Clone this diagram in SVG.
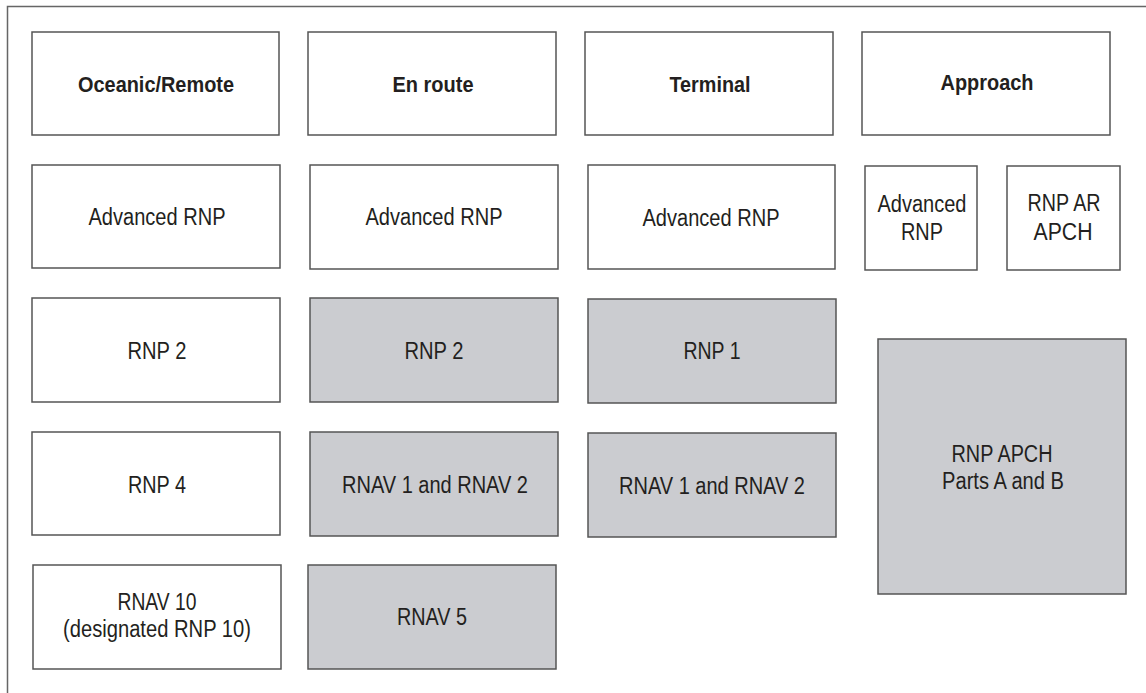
<svg xmlns="http://www.w3.org/2000/svg" width="1146" height="693" viewBox="0 0 1146 693">
<style>
.b{fill:#ffffff;stroke:#555555;stroke-width:1.5}
.g{fill:#cbccd0;stroke:#555555;stroke-width:1.5}
text{font-family:"Liberation Sans",Arial,sans-serif;font-size:23px;fill:#231f20;text-anchor:middle}
.h{font-weight:bold;font-size:22px}
</style>
<rect width="1146" height="693" fill="#ffffff"/>
<path d="M7.5,693 V6.5 H1146" fill="none" stroke="#666666" stroke-width="1.5"/>
<g id="hdr-oceanic"><rect class="b" x="32" y="32" width="247" height="103"/><text class="h" x="156" y="92" textLength="156" lengthAdjust="spacingAndGlyphs">Oceanic/Remote</text></g>
<g id="hdr-enroute"><rect class="b" x="308" y="32" width="248" height="103"/><text class="h" x="433" y="92" textLength="81" lengthAdjust="spacingAndGlyphs">En route</text></g>
<g id="hdr-terminal"><rect class="b" x="585" y="32" width="248" height="103"/><text class="h" x="710" y="92" textLength="81" lengthAdjust="spacingAndGlyphs">Terminal</text></g>
<g id="hdr-approach"><rect class="b" x="862" y="32" width="248" height="103"/><text class="h" x="987" y="90" textLength="93" lengthAdjust="spacingAndGlyphs">Approach</text></g>
<g id="oc-arnp"><rect class="b" x="32" y="165" width="248" height="103"/><text x="157" y="225" textLength="137" lengthAdjust="spacingAndGlyphs">Advanced RNP</text></g>
<g id="er-arnp"><rect class="b" x="310" y="165" width="248" height="104"/><text x="434" y="225" textLength="137" lengthAdjust="spacingAndGlyphs">Advanced RNP</text></g>
<g id="te-arnp"><rect class="b" x="588" y="165" width="247" height="104"/><text x="711" y="226" textLength="137" lengthAdjust="spacingAndGlyphs">Advanced RNP</text></g>
<g id="ap-arnp"><rect class="b" x="865" y="166" width="112" height="104"/><text x="922" y="212" textLength="89" lengthAdjust="spacingAndGlyphs">Advanced</text><text x="922" y="240" textLength="42" lengthAdjust="spacingAndGlyphs">RNP</text></g>
<g id="ap-rnpar"><rect class="b" x="1007" y="166" width="113" height="104"/><text x="1064" y="211" textLength="73" lengthAdjust="spacingAndGlyphs">RNP AR</text><text x="1063" y="240" textLength="59" lengthAdjust="spacingAndGlyphs">APCH</text></g>
<g id="oc-rnp2"><rect class="b" x="32" y="298" width="248" height="104"/><text x="157" y="359" textLength="59" lengthAdjust="spacingAndGlyphs">RNP 2</text></g>
<g id="er-rnp2"><rect class="g" x="310" y="298" width="248" height="104"/><text x="434" y="359" textLength="59" lengthAdjust="spacingAndGlyphs">RNP 2</text></g>
<g id="te-rnp1"><rect class="g" x="588" y="299" width="248" height="104"/><text x="712" y="359" textLength="57" lengthAdjust="spacingAndGlyphs">RNP 1</text></g>
<g id="ap-rnpapch"><rect class="g" x="878" y="339" width="248" height="255"/><text x="1002" y="462" textLength="101" lengthAdjust="spacingAndGlyphs">RNP APCH</text><text x="1003" y="489" textLength="122" lengthAdjust="spacingAndGlyphs">Parts A and B</text></g>
<g id="oc-rnp4"><rect class="b" x="32" y="432" width="248" height="103"/><text x="157" y="493" textLength="58" lengthAdjust="spacingAndGlyphs">RNP 4</text></g>
<g id="er-rnav12"><rect class="g" x="310" y="432" width="248" height="104"/><text x="435" y="493" textLength="186" lengthAdjust="spacingAndGlyphs">RNAV 1 and RNAV 2</text></g>
<g id="te-rnav12"><rect class="g" x="588" y="433" width="248" height="104"/><text x="712" y="494" textLength="186" lengthAdjust="spacingAndGlyphs">RNAV 1 and RNAV 2</text></g>
<g id="oc-rnav10"><rect class="b" x="33" y="565" width="248" height="104"/><text x="157" y="610" textLength="79" lengthAdjust="spacingAndGlyphs">RNAV 10</text><text x="157" y="637" textLength="188" lengthAdjust="spacingAndGlyphs">(designated RNP 10)</text></g>
<g id="er-rnav5"><rect class="g" x="308" y="565" width="248" height="104"/><text x="432" y="625" textLength="70" lengthAdjust="spacingAndGlyphs">RNAV 5</text></g>
<g id="connectors"></g>
</svg>
